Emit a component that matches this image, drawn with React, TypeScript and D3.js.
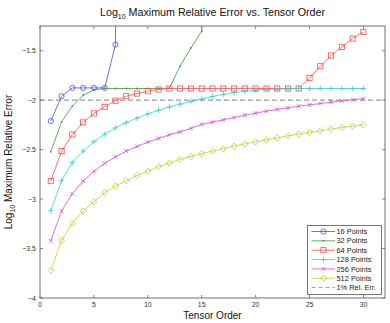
import React from "react";
import * as d3 from "d3";

const orders16 = [1, 2, 3, 4, 5, 6, 7, 8];
const err16 = [-2.21, -1.96, -1.876, -1.876, -1.876, -1.876, -1.438, 20];

const orders32 = [1, 2, 3, 4, 5, 6, 7, 8, 9, 10, 11, 12, 13, 14, 15, 16];
const err32 = [-2.522, -2.22, -2.06, -1.95, -1.895, -1.882, -1.882, -1.882, -1.882, -1.882, -1.882, -1.878, -1.653, -1.472, -1.303, 20];

const orders64 = d3.range(1, 31);
const err64 = [-2.818, -2.515, -2.347, -2.225, -2.134, -2.068, -2.005, -1.96, -1.933, -1.909, -1.892, -1.882, -1.882, -1.882, -1.882, -1.882, -1.882, -1.882, -1.882, -1.882, -1.882, -1.882, -1.882, -1.882, -1.775, -1.657, -1.548, -1.461, -1.377, -1.31];

const orders128 = d3.range(1, 31);
const err128 = [-3.118, -2.815, -2.629, -2.515, -2.421, -2.343, -2.28, -2.225, -2.182, -2.14, -2.1, -2.07, -2.04, -2.012, -1.988, -1.962, -1.942, -1.923, -1.909, -1.899, -1.892, -1.888, -1.885, -1.882, -1.882, -1.882, -1.882, -1.882, -1.882, -1.882];

const orders256 = d3.range(1, 31);
const err256 = [-3.421, -3.121, -2.946, -2.818, -2.72, -2.639, -2.573, -2.515, -2.468, -2.424, -2.387, -2.35, -2.32, -2.285, -2.245, -2.222, -2.199, -2.175, -2.152, -2.131, -2.111, -2.094, -2.078, -2.06, -2.047, -2.034, -2.02, -2.007, -1.996, -1.984];

const orders512 = d3.range(1, 31);
const err512 = [-3.72, -3.421, -3.246, -3.121, -3.027, -2.932, -2.869, -2.815, -2.761, -2.717, -2.674, -2.634, -2.599, -2.569, -2.542, -2.515, -2.492, -2.465, -2.441, -2.421, -2.401, -2.38, -2.36, -2.343, -2.326, -2.31, -2.293, -2.276, -2.263, -2.25];

const seriesNames = ["16 Points", "32 Points", "64 Points", "128 Points", "256 Points", "512 Points"];
const refLabel = "1% Rel. Err.";
const refValue = -2;

const xTicks = [0, 5, 10, 15, 20, 25, 30];
const yTicks = [-4, -3.5, -3, -2.5, -2, -1.5];

const W = 390, H = 323;
const L = 40, R = 385, T = 26, B = 298;

const colors = ["#4a4aff", "#3a9a3a", "#ff4a4a", "#3ccccc", "#d24ad2", "#c8c83a"];
const markers = ["o", ".", "s", "+", "x", "d"];

function Marker({ type, x, y, color }: { type: string; x: number; y: number; color: string }) {
  const sw = 0.8;
  if (type === "o") return <circle cx={x} cy={y} r={2.6} fill="none" stroke={color} strokeWidth={sw} />;
  if (type === ".") return <circle cx={x} cy={y} r={0.9} fill={color} stroke="none" />;
  if (type === "s") return <rect x={x - 2.6} y={y - 2.6} width={5.2} height={5.2} fill="none" stroke={color} strokeWidth={sw} />;
  if (type === "+") return <path d={`M${x - 2.8},${y}H${x + 2.8}M${x},${y - 2.8}V${y + 2.8}`} stroke={color} strokeWidth={sw} />;
  if (type === "x") return <path d={`M${x - 2},${y - 2}L${x + 2},${y + 2}M${x - 2},${y + 2}L${x + 2},${y - 2}`} stroke={color} strokeWidth={sw} />;
  if (type === "d") return <path d={`M${x},${y - 3.2}L${x + 3},${y}L${x},${y + 3.2}L${x - 3},${y}Z`} fill="none" stroke={color} strokeWidth={sw} />;
  return null;
}

export default function App() {
  const x = d3.scaleLinear().domain([0, 32]).range([L, R]);
  const y = d3.scaleLinear().domain([-4, -1.25]).range([B, T]);
  const line = d3.line<[number, number]>().x(d => x(d[0])).y(d => y(d[1]));

  const all: [number[], number[]][] = [
    [orders16, err16], [orders32, err32], [orders64, err64],
    [orders128, err128], [orders256, err256], [orders512, err512],
  ];

  const font = "'Liberation Sans', Arial, Helvetica, sans-serif";
  const legX = 307.5, legY = 225.5, legW = 74, legH = 69, rowH = 9.35;

  return (
    <div style={{ position: "absolute", left: 0, top: 0, width: W, height: H }}>
      <svg width={W} height={H} style={{ display: "block", background: "#fff" }} fontFamily={font}>
        <defs>
          <clipPath id="plotclip"><rect x={L} y={T} width={R - L} height={B - T} /></clipPath>
        </defs>
        <rect x={0} y={0} width={W} height={H} fill="#fff" />
        <text x={(L + R) / 2} y={16} fontSize={10.7} textAnchor="middle" fill="#111">
          Log<tspan fontSize={7} dy={3}>10</tspan><tspan dy={-3}> Maximum Relative Error vs. Tensor Order</tspan>
        </text>
        <g clipPath="url(#plotclip)">
          <line x1={L} x2={R} y1={y(refValue)} y2={y(refValue)} stroke="#999" strokeWidth={1.3} strokeDasharray="5,3" />
          {all.map(([xs, ys], i) => {
            const pts = xs.map((v, j) => [v, ys[j]] as [number, number]);
            return (
              <g key={i}>
                <path d={line(pts) || ""} fill="none" stroke={colors[i]} strokeWidth={0.8} />
                {pts.map((p, j) => <Marker key={j} type={markers[i]} x={x(p[0])} y={y(p[1])} color={colors[i]} />)}
              </g>
            );
          })}
        </g>
        <rect x={L} y={T} width={R - L} height={B - T} fill="none" stroke="#888" strokeWidth={1.2} />
        {xTicks.map(t => (
          <g key={"x" + t}>
            <line x1={x(t)} x2={x(t)} y1={B} y2={B - 3} stroke="#666" strokeWidth={0.8} />
            <line x1={x(t)} x2={x(t)} y1={T} y2={T + 3} stroke="#666" strokeWidth={0.8} />
            <text x={x(t)} y={306.5} fontSize={7} textAnchor="middle" fill="#333">{t}</text>
          </g>
        ))}
        {yTicks.map(t => (
          <g key={"y" + t}>
            <line x1={L} x2={L + 3} y1={y(t)} y2={y(t)} stroke="#666" strokeWidth={0.8} />
            <line x1={R} x2={R - 3} y1={y(t)} y2={y(t)} stroke="#666" strokeWidth={0.8} />
            <text x={36} y={y(t) + 2.5} fontSize={7} textAnchor="end" fill="#333">{String(t).replace("-", "\u2212")}</text>
          </g>
        ))}
        <text x={(L + R) / 2} y={318.5} fontSize={10} textAnchor="middle" fill="#111">Tensor Order</text>
        <text transform={`translate(11.5,${(T + B) / 2}) rotate(-90)`} fontSize={10} textAnchor="middle" fill="#111">
          Log<tspan fontSize={7} dy={3}>10</tspan><tspan dy={-3}> Maximum Relative Error</tspan>
        </text>
        <g>
          <rect x={legX} y={legY} width={legW} height={legH} fill="#fff" stroke="#555" strokeWidth={0.8} />
          {seriesNames.map((name, i) => {
            const cy = legY + 6 + i * rowH;
            return (
              <g key={name}>
                <line x1={legX + 4} x2={legX + 27.5} y1={cy} y2={cy} stroke={colors[i]} strokeWidth={0.8} />
                <Marker type={markers[i]} x={legX + 16} y={cy} color={colors[i]} />
                <text x={legX + 29} y={cy + 2.6} fontSize={7.4} fill="#222">{name}</text>
              </g>
            );
          })}
          <line x1={legX + 4} x2={legX + 27.5} y1={legY + 6 + 6 * rowH} y2={legY + 6 + 6 * rowH} stroke="#999" strokeWidth={1} strokeDasharray="4,3" />
          <text x={legX + 29} y={legY + 6 + 6 * rowH + 2.6} fontSize={7.4} fill="#222">{refLabel}</text>
        </g>
      </svg>
    </div>
  );
}
